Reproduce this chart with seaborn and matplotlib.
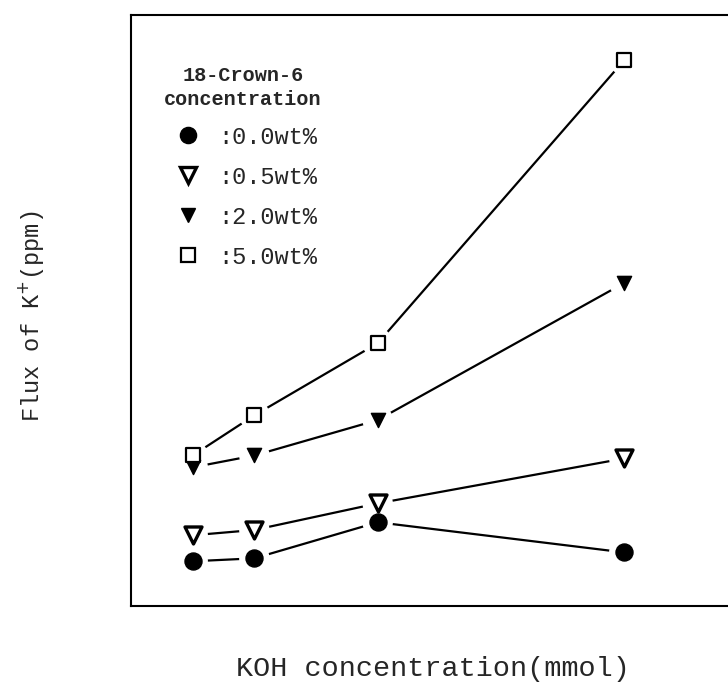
import matplotlib
matplotlib.use("Agg")
import matplotlib.pyplot as plt
import seaborn as sns
import pandas as pd
from matplotlib.lines import Line2D

# ---- data (y in arbitrary ppm units) ----
koh = [0.5, 1.0, 2.0, 4.0]
crown_labels = [":0.0wt%", ":0.5wt%", ":2.0wt%", ":5.0wt%"]
flux_00 = [7.6, 8.1, 14.2, 9.1]
flux_05 = [12.0, 12.9, 17.4, 25.0]
flux_20 = [23.5, 25.5, 31.5, 54.7]
flux_50 = [25.5, 32.3, 44.5, 92.4]

series = [flux_00, flux_05, flux_20, flux_50]
rows = []
for lab, vals in zip(crown_labels, series):
    for x, y in zip(koh, vals):
        rows.append({"koh": x, "flux": y, "crown": lab})
df = pd.DataFrame(rows)

sns.set_style("white")
plt.rcParams["font.family"] = ["Liberation Mono", "DejaVu Sans"]

fig = plt.figure(figsize=(7.28, 6.92), dpi=100)
ax = fig.add_axes([0.18, 0.124, 0.83, 0.854])

# lines
sns.lineplot(data=df, x="koh", y="flux", hue="crown", units="crown",
             estimator=None, palette=["black"] * 4, linewidth=1.6,
             legend=False, ax=ax, zorder=2)

styles = {
    ":0.0wt%": dict(marker="o", s=150, facecolor="black", edgecolor="black", linewidth=1.0),
    ":0.5wt%": dict(marker="v", s=150, facecolor="white", edgecolor="black", linewidth=2.4),
    ":2.0wt%": dict(marker="v", s=105, facecolor="black", edgecolor="black", linewidth=1.0),
    ":5.0wt%": dict(marker="s", s=110, facecolor="white", edgecolor="black", linewidth=1.6),
}

# white halos to produce gaps between lines and markers
for lab in crown_labels:
    sub = df[df.crown == lab]
    sns.scatterplot(data=sub, x="koh", y="flux", marker="o", s=480,
                    color="white", edgecolor="none", linewidth=0,
                    legend=False, ax=ax, zorder=3)

for lab in crown_labels:
    sub = df[df.crown == lab]
    st = styles[lab]
    sns.scatterplot(data=sub, x="koh", y="flux", marker=st["marker"], s=st["s"],
                    color=st["facecolor"], edgecolor=st["edgecolor"],
                    linewidth=st["linewidth"], legend=False, ax=ax, zorder=4)

ax.set_xlim(0, 4.9)
ax.set_ylim(0, 100)
ax.set_xticks([])
ax.set_yticks([])
for side in ["left", "bottom", "top"]:
    ax.spines[side].set_color("black")
    ax.spines[side].set_linewidth(1.5)
ax.spines["right"].set_visible(False)

ax.set_xlabel("KOH concentration(mmol)", fontsize=20.5, labelpad=36)
ax.set_ylabel(r"Flux of K$^{+}$(ppm)", fontsize=17)
ax.yaxis.set_label_coords(-0.14, 0.49)

handles = []
for lab in crown_labels:
    st = styles[lab]
    handles.append(Line2D([], [], linestyle="none", marker=st["marker"],
                          markersize=(st["s"] ** 0.5) * 0.95,
                          markerfacecolor=st["facecolor"],
                          markeredgecolor=st["edgecolor"],
                          markeredgewidth=st["linewidth"]))
leg = ax.legend(handles, crown_labels, title="18-Crown-6\nconcentration",
                loc="upper left", bbox_to_anchor=(0.02, 0.950), frameon=False,
                fontsize=17, title_fontsize=14.5, labelspacing=0.72,
                handletextpad=0.3, alignment="left")
leg.get_title().set_fontweight("bold")
leg.get_title().set_multialignment("center")
leg.get_title().set_linespacing(1.3)

fig.savefig("out.png", dpi=100)
